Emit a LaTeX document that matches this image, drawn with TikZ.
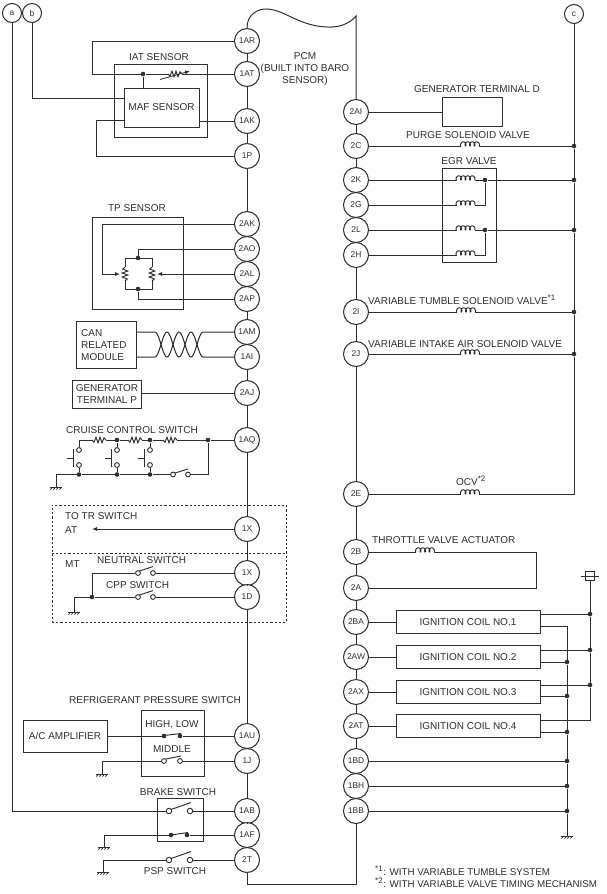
\documentclass[tikz,border=0pt]{standalone}
\usepackage{fontspec}
\setmainfont{Liberation Sans}
\usetikzlibrary{arrows.meta}
\definecolor{ink}{HTML}{2E2E2E}
\tikzset{
  wire/.style={draw=ink,line width=1pt,line join=miter},
  term/.style={circle,draw=ink,fill=white,line width=1pt,minimum size=25pt,inner sep=0pt,font=\fontsize{8.4}{9}\selectfont,text=ink},
  lettr/.style={circle,draw=ink,fill=white,line width=1pt,minimum size=19pt,inner sep=0pt,font=\fontsize{8.4}{9}\selectfont,text=ink},
  lbl/.style={inner sep=0pt,text=ink,font=\fontsize{10}{12}\selectfont,text height=7.2pt,text depth=0pt},
  lines/.style={inner sep=0pt,text=ink,font=\fontsize{10}{12}\selectfont,align=left},
  devbox/.style={draw=ink,line width=1pt,fill=white,inner sep=0pt,text=ink,font=\fontsize{10}{12}\selectfont},
  dot/.style={circle,fill=ink,inner sep=0pt,minimum size=4.6pt},
  opn/.style={circle,draw=ink,fill=white,line width=0.9pt,inner sep=0pt,minimum size=4.8pt},
  tipa/.style={-{Latex[length=5pt,width=4pt]}},
  pics/coilsym/.style={code={
    \draw[white,line width=3pt] (-9,0) -- (9,0);
    \draw[ink,line width=0.95pt] plot[variable=\t,domain=0:1440,samples=97,smooth]
      ({0.0125*(\t-720)-1.4*sin(\t)},{-2.1+2.1*cos(\t)});
  }},
  pics/ressym/.style={code={
    \draw[white,line width=2.5pt] (-7,0) -- (7,0);
    \draw[ink,line width=0.95pt] (-7,0) -- (-5,2.2) -- (-3,-2.8) -- (-1,2.8) -- (1,-2.8) -- (3,2.8) -- (5,-2.2) -- (7,0);
  }},
  pics/gndsym/.style={code={
    \draw[ink,line width=1pt] (-6,0) -- (6,0);
    \foreach \k in {-5,-2,1,4} \draw[ink,line width=0.8pt] (\k+1.5,0) -- (\k-0.5,2.5);
  }},
}
\begin{document}
\begin{tikzpicture}[x=1pt,y=-1pt]
\useasboundingbox (0,0) rectangle (607,894);
% PCM terminals, left
\foreach \n/\t/\y in {n1AR/1AR/41,n1AT/1AT/74,n1AK/1AK/121,n1P/1P/156,n2AK/2AK/224,n2AO/2AO/249,n2AL/2AL/274,n2AP/2AP/299,n1AM/1AM/332,n1AI/1AI/357,n2AJ/2AJ/393,n1AQ/1AQ/440,n1Xa/1X/529,n1Xb/1X/573,n1D/1D/597,n1AU/1AU/736,n1J/1J/761,n1AB/1AB/811,n1AF/1AF/835,n2T/2T/860}
  \node[term] (\n) at (247,\y) {\t};
% PCM terminals, right
\foreach \n/\t/\y in {n2AI/2AI/112,n2C/2C/146,n2K/2K/180,n2G/2G/205,n2L/2L/230,n2H/2H/255,n2I/2I/312,n2J/2J/354,n2E/2E/494,n2B/2B/552,n2A/2A/588,n2BA/2BA/622,n2AW/2AW/657,n2AX/2AX/692,n2AT/2AT/726,n1BD/1BD/761,n1BH/1BH/786,n1BB/1BB/811}
  \node[term] (\n) at (356,\y) {\t};
\node[lettr] (la) at (12,13) {a};
\node[lettr] (lb) at (32,13) {b};
\node[lettr] (lc) at (574,14) {c};
% PCM outline
\coordinate (topL) at (247,28);
\coordinate (topR) at (356,16);
\coordinate (botL) at (247,884);
\coordinate (botR) at (356,884);
\draw[wire] (n1AR) -- (topL) .. controls (247,14) and (258,9) .. (266,9)
  .. controls (285,9) and (300,28) .. (332,27) .. controls (343,26.5) and (351,22) .. (topR) -- (n2AI);
\foreach \a/\b in {n1AR/n1AT,n1AT/n1AK,n1AK/n1P,n1P/n2AK,n2AK/n2AO,n2AO/n2AL,n2AL/n2AP,n2AP/n1AM,n1AM/n1AI,n1AI/n2AJ,n2AJ/n1AQ,n1AQ/n1Xa,n1Xa/n1Xb,n1Xb/n1D,n1D/n1AU,n1AU/n1J,n1J/n1AB,n1AB/n1AF,n1AF/n2T,
  n2AI/n2C,n2C/n2K,n2K/n2G,n2G/n2L,n2L/n2H,n2H/n2I,n2I/n2J,n2J/n2E,n2E/n2B,n2B/n2A,n2A/n2BA,n2BA/n2AW,n2AW/n2AX,n2AX/n2AT,n2AT/n1BD,n1BD/n1BH,n1BH/n1BB}
  \draw[wire] (\a) -- (\b);
\draw[wire] (n1BB) -- (botR) -- (botL) -- (n2T);
\node[lines,align=center] (pcmtxt) at (305,69) {PCM\\(BUILT INTO BARO\\SENSOR)};
% IAT / MAF
\node[devbox,minimum width=93pt,minimum height=73pt] (iatbox) at (160.5,100.5) {};
\node[lbl] (iattxt) at (159,57) {IAT SENSOR};
\node[devbox,minimum width=75pt,minimum height=39pt] (mafbox) at (161.5,107.5) {MAF SENSOR};
\coordinate (w1) at (92,41);
\coordinate (w2) at (92,74);
\node[dot] (iatj) at (143,74) {};
\draw[wire] (n1AR) -- (w1) -- (w2) -- (iatj) -- (n1AT);
\draw[wire] (iatj) -- (143,88);
\pic at (175,74) {ressym};
\coordinate (ra) at (160,79.5);
\coordinate (rb) at (190,71);
\draw[ink,line width=0.8pt,tipa] (ra) -- (rb);
\draw[wire] (lb) |- (124,98);
\draw[wire] (199,121) -- (n1AK);
\coordinate (w3) at (96,120.5);
\coordinate (w4) at (96,156);
\draw[wire] (124,120.5) -- (w3) -- (w4) -- (n1P);
% TP sensor
\node[draw=ink,line width=1pt,minimum width=91pt,minimum height=92pt,inner sep=0pt] (tpbox) at (137.5,263) {};
\node[lbl] (tptxt) at (137,208) {TP SENSOR};
\node[dot] (tpt) at (138,258) {};
\node[dot] (tpb) at (138,289) {};
\draw[wire] (125,258) rectangle (152,289);
\pic[rotate=90] at (125,274) {ressym};
\pic[rotate=90] at (152,274) {ressym};
\draw[wire] (tpt) -- (138,249) -- (n2AO);
\draw[wire] (tpb) -- (138,299) -- (n2AP);
\coordinate (t1) at (102,224);
\coordinate (t2) at (102,274);
\draw[wire,tipa] (n2AK) -- (t1) -- (t2) -- (120,274);
\draw[wire,tipa] (n2AL) -- (157,274);
% CAN
\node[draw=ink,line width=1pt,fill=white,minimum width=60pt,minimum height=47pt,inner sep=0pt] (canbox) at (106,344.5) {};
\node[lines,anchor=west] (cantxt) at (81,345) {CAN\\RELATED\\MODULE};
\coordinate (c1) at (136,332);
\coordinate (c2) at (136,357);
\draw[wire] (c1) -- (155,332) -- plot[variable=\t,domain=155:203,samples=49,smooth] ({\t},{344.5-12.5*cos(15*(\t-155))}) -- (n1AM);
\draw[wire] (c2) -- (155,357) -- plot[variable=\t,domain=155:203,samples=49,smooth] ({\t},{344.5+12.5*cos(15*(\t-155))}) -- (n1AI);
% Generator P
\node[draw=ink,line width=1pt,minimum width=68.5pt,minimum height=28pt,inner sep=0pt,lines,align=center] (genp) at (107,394) {GENERATOR\\TERMINAL P};
\draw[wire] (n2AJ) -- (genp.east |- n2AJ);
% Cruise
\node[lbl] (cruisetxt) at (132,430) {CRUISE CONTROL SWITCH};
\coordinate (cs0) at (79,440);
\node[dot] (cj1) at (117,440) {};
\node[dot] (cj2) at (150,440) {};
\node[dot] (cj3) at (208,440) {};
\node[dot] (cb1) at (79,474.5) {};
\node[dot] (cb2) at (117,474.5) {};
\node[dot] (cb3) at (150,474.5) {};
\node[opn] (cu1) at (79,450) {};
\node[opn] (cd1) at (79,465) {};
\node[opn] (cu2) at (117,450) {};
\node[opn] (cd2) at (117,465) {};
\node[opn] (cu3) at (150,450) {};
\node[opn] (cd3) at (150,465) {};
\node[opn] (cs1) at (173,474.5) {};
\node[opn] (cs2) at (188,474.5) {};
\coordinate (cg) at (56,474.5);
\coordinate (cg2) at (56,487);
\coordinate (cc) at (208,474.5);
\draw[wire] (cu1) -- (cs0) -- (cj1) -- (cj2) -- (cj3) -- (n1AQ);
\draw[wire] (cj3) -- (cc) -- (cs2);
\draw[wire] (cs1) -- (cb3) -- (cb2) -- (cb1) -- (cg) -- (cg2);
\draw[wire] (cu2) -- (cj1);
\draw[wire] (cu3) -- (cj2);
\draw[wire] (cd1) -- (cb1);
\draw[wire] (cd2) -- (cb2);
\draw[wire] (cd3) -- (cb3);
\pic at (99,440) {ressym};
\pic at (135,440) {ressym};
\pic at (170,440) {ressym};
\pic at (56,487) {gndsym};
\draw[ink,line width=0.95pt] (175,473) -- (188,469);
\foreach \x/\l in {73/67,111/105,144/138} {
  \draw[wire] (\x,449) -- (\x,467);
  \draw[wire] (\l,458) -- (\x,458);
}
% Dashed box
\node[draw=ink,line width=1pt,dash pattern=on 2.2pt off 2pt,minimum width=234pt,minimum height=117pt,inner sep=0pt] (dashbox) at (169,563.5) {};
\draw[ink,line width=1pt,dash pattern=on 2.2pt off 2pt] (dashbox.west |- 0,553) -- (dashbox.east |- 0,553);
\node[lbl,anchor=west] (trtxt) at (65,515.5) {TO TR SWITCH};
\node[lbl,anchor=west] (attxt) at (65,529.5) {AT};
\coordinate (atend) at (92,529);
\draw[wire,tipa] (n1Xa) -- (atend);
\node[lbl,anchor=west] (mttxt) at (65,564) {MT};
\node[lbl,anchor=west] (neutxt) at (97,560) {NEUTRAL SWITCH};
\node[lbl,anchor=west] (cpptxt) at (106,585) {CPP SWITCH};
\node[opn] (ns1) at (138,573) {};
\node[opn] (ns2) at (153,573) {};
\node[opn] (cp1) at (138,597) {};
\node[opn] (cp2) at (153,597) {};
\node[dot] (mj) at (92,597) {};
\coordinate (mc) at (92,573);
\coordinate (mg) at (74,597);
\coordinate (mg2) at (74,612);
\draw[wire] (n1Xb) -- (ns2);
\draw[wire] (n1D) -- (cp2);
\draw[wire] (ns1) -- (mc) -- (mj);
\draw[wire] (cp1) -- (mj) -- (mg) -- (mg2);
\draw[ink,line width=0.95pt] (139.5,571) -- (153,566.5);
\draw[ink,line width=0.95pt] (139.5,595) -- (153,590.5);
\pic at (74,612) {gndsym};
% Refrigerant
\node[lbl] (reftxt) at (155,700) {REFRIGERANT PRESSURE SWITCH};
\node[draw=ink,line width=1pt,minimum width=63pt,minimum height=66pt,inner sep=0pt] (refbox) at (172.5,743) {};
\node[lbl] (hltxt) at (172,723.5) {HIGH, LOW};
\node[lbl] (midtxt) at (172,749) {MIDDLE};
\node[devbox,minimum width=84pt,minimum height=32pt] (acamp) at (65,736) {A/C AMPLIFIER};
\node[dot] (rs1) at (164,736) {};
\node[dot] (rs2) at (180,736) {};
\node[opn] (rm1) at (164,761) {};
\node[opn] (rm2) at (180,761) {};
\coordinate (rg) at (102,761);
\coordinate (rg2) at (102,774);
\draw[wire] (acamp) -- (rs1);
\draw[wire] (rs2) -- (n1AU);
\draw[ink,line width=0.95pt] (164,735.5) -- (181,733.5);
\draw[wire] (n1J) -- (rm2);
\draw[wire] (rm1) -- (rg) -- (rg2);
\draw[ink,line width=0.95pt] (166,759) -- (181,756);
\pic at (102,774) {gndsym};
% Brake
\node[lbl] (braketxt) at (178,792) {BRAKE SWITCH};
\node[draw=ink,line width=1pt,minimum width=46pt,minimum height=43pt,inner sep=0pt] (brbox) at (180,819.5) {};
\node[opn,minimum size=5.5pt] (b1) at (169,811) {};
\node[opn,minimum size=5.5pt] (b2) at (190,811) {};
\coordinate (ac) at (12,811);
\draw[wire] (la) -- (ac) -- (b1);
\draw[wire] (b2) -- (n1AB);
\draw[ink,line width=0.95pt] (171,809.5) -- (191,802.5);
\node[dot] (b3) at (171,835) {};
\node[dot] (b4) at (187,835) {};
\coordinate (bg) at (104,835);
\coordinate (bg2) at (104,847);
\draw[wire] (b4) -- (n1AF);
\draw[wire] (b3) -- (bg) -- (bg2);
\draw[ink,line width=0.95pt] (171,835) -- (188,832.5);
\pic at (104,847) {gndsym};
\node[opn,minimum size=5.5pt] (p1) at (169,860) {};
\node[opn,minimum size=5.5pt] (p2) at (190,860) {};
\coordinate (pg) at (103,860);
\coordinate (pg2) at (103,872);
\draw[wire] (p2) -- (n2T);
\draw[wire] (p1) -- (pg) -- (pg2);
\draw[ink,line width=0.95pt] (171,858.5) -- (191,851.5);
\pic at (103,872) {gndsym};
\node[lbl] (psptxt) at (175,870.5) {PSP SWITCH};
% Generator D
\node[lbl] (gendtxt) at (477,89) {GENERATOR TERMINAL D};
\node[draw=ink,line width=1pt,minimum width=60pt,minimum height=29pt,inner sep=0pt] (gend) at (472,111.5) {};
\draw[wire] (n2AI) -- (gend.west |- n2AI);
% Bus c junctions
\node[dot] (j2C) at (574,146) {};
\node[dot] (j2K) at (574,180) {};
\node[dot] (j2L) at (574,230) {};
\node[dot] (j2I) at (574,312) {};
\node[dot] (j2J) at (574,354) {};
\coordinate (j2E) at (574,494);
\draw[wire] (lc) -- (j2C) -- (j2K) -- (j2L) -- (j2I) -- (j2J) -- (j2E) -- (n2E);
% Purge
\node[lbl] (purgetxt) at (468,135) {PURGE SOLENOID VALVE};
\draw[wire] (n2C) -- (j2C);
\pic at (470,146) {coilsym};
% EGR
\node[lbl] (egrtxt) at (469,161) {EGR VALVE};
\node[draw=ink,line width=1pt,minimum width=54pt,minimum height=94pt,inner sep=0pt] (egrbox) at (469,215) {};
\node[dot] (e1) at (485,180) {};
\node[dot] (e2) at (485,230) {};
\coordinate (e3) at (485,205);
\coordinate (e4) at (485,255);
\draw[wire] (n2K) -- (e1) -- (j2K);
\draw[wire] (n2L) -- (e2) -- (j2L);
\draw[wire] (n2G) -- (e3) -- (e1);
\draw[wire] (n2H) -- (e4) -- (e2);
\pic at (465.5,180) {coilsym};
\pic at (465.5,205) {coilsym};
\pic at (465.5,230) {coilsym};
\pic at (465.5,255) {coilsym};
% Other solenoids
\node[lbl,anchor=west] (vttxt) at (368,301) {VARIABLE TUMBLE SOLENOID VALVE\textsuperscript{\fontsize{8}{8}\selectfont *1}};
\draw[wire] (n2I) -- (j2I);
\pic at (466,312) {coilsym};
\node[lbl,anchor=west] (vitxt) at (368,344) {VARIABLE INTAKE AIR SOLENOID VALVE};
\draw[wire] (n2J) -- (j2J);
\pic at (470,354) {coilsym};
\node[lbl] (ocvtxt) at (471,482) {OCV\textsuperscript{\fontsize{8}{8}\selectfont *2}};
\pic at (470,494) {coilsym};
% Throttle
\node[lbl,anchor=west] (thrtxt) at (372,540) {THROTTLE VALVE ACTUATOR};
\coordinate (th1) at (536,552);
\coordinate (th2) at (536,588);
\draw[wire] (n2B) -- (th1) -- (th2) -- (n2A);
\pic at (425,552) {coilsym};
% Ignition
\foreach \n/\t/\y in {ign1/1/622,ign2/2/657,ign3/3/692,ign4/4/726}
  \node[devbox,minimum width=144pt,minimum height=23pt] (\n) at (468,\y) {IGNITION COIL NO.\t};
\draw[wire] (n2BA) -- (ign1);
\draw[wire] (n2AW) -- (ign2);
\draw[wire] (n2AX) -- (ign3);
\draw[wire] (n2AT) -- (ign4);
% Fuse
\node[draw=ink,line width=1pt,minimum width=9pt,minimum height=9pt,inner sep=0pt] (fuse) at (590,576) {};
\coordinate (fa) at (581,576);
\coordinate (fb) at (599,576);
\draw[ink,line width=0.95pt] (fa) -- (fb);
\node[dot] (pw1) at (590,614) {};
\node[dot] (pw2) at (590,650) {};
\node[dot] (pw3) at (590,685) {};
\coordinate (pw4) at (590,720);
\draw[wire] (fuse) -- (pw1) -- (pw2) -- (pw3) -- (pw4) -- (540,720);
\draw[wire] (540,614) -- (pw1);
\draw[wire] (540,650) -- (pw2);
\draw[wire] (540,685) -- (pw3);
% Ground bus
\coordinate (gt) at (567,626);
\node[dot] (g2) at (567,662) {};
\node[dot] (g3) at (567,696) {};
\node[dot] (g4) at (567,732) {};
\node[dot] (g5) at (567,761) {};
\node[dot] (g6) at (567,786) {};
\node[dot] (g7) at (567,811) {};
\coordinate (g8) at (567,836);
\draw[wire] (540,626) -- (gt) -- (g2) -- (g3) -- (g4) -- (g5) -- (g6) -- (g7) -- (g8);
\draw[wire] (540,662) -- (g2);
\draw[wire] (540,696) -- (g3);
\draw[wire] (540,732) -- (g4);
\draw[wire] (n1BD) -- (g5);
\draw[wire] (n1BH) -- (g6);
\draw[wire] (n1BB) -- (g7);
\pic at (567,836) {gndsym};
% Footnotes
\node[lbl,anchor=west,font=\fontsize{9.8}{12}\selectfont] (fn1) at (375,871.5) {\textsuperscript{\fontsize{8}{8}\selectfont *1}: WITH VARIABLE TUMBLE SYSTEM};
\node[lbl,anchor=west,font=\fontsize{9.8}{12}\selectfont] (fn2) at (375,883.5) {\textsuperscript{\fontsize{8}{8}\selectfont *2}: WITH VARIABLE VALVE TIMING MECHANISM};
\end{tikzpicture}
\end{document}
